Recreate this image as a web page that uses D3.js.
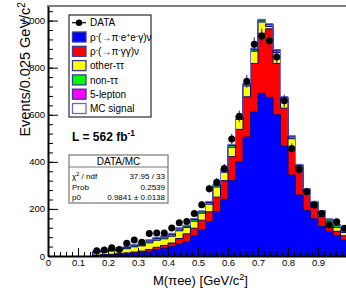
<!DOCTYPE html>
<html>
<head>
<meta charset="utf-8">
<script src="https://cdn.jsdelivr.net/npm/d3@7"></script>
<style>
  body { margin: 0; background: #fff; }
  svg { font-family: "Liberation Sans", Arial, Helvetica, sans-serif; }
</style>
</head>
<body>
<svg id="chart" width="346" height="290"></svg>
<script>
// bins of 0.025 GeV/c^2, first filled bin starts at 0.150
var firstBin = 6;
var binWidth = 0.025;

// stacked MC components, bins 0.150 .. 1.000
var sigEEG   = [2,3,4,6,8,11,14,20,28,33,40,50,61,86,112,146,188,241,320,400,505,612,691,674,600,467,344,259,193,158,125,105,87,68];
var sigGG    = [2,3,3,4,5,6,7,8,9,12,15,24,33,32,40,42,62,79,102,138,171,206,255,291,218,161,110,99,76,50,42,17,18,18];
var otherTT  = [12,12,14,16,18,22,22,28,30,28,29,33,27,30,30,32,43,36,40,42,46,52,48,10,46,36,44,20,8,15,16,23,16,14];
var nonTT    = [4,4,5,5,6,7,7,8,8,8,8,8,6,7,6,7,8,8,8,8,8,8,8,8,8,8,8,7,5,6,6,8,8,7];
var fiveLep  = [2,3,2,3,3,3,4,4,4,4,4,4,3,4,3,4,4,4,4,4,4,4,3,3,4,4,4,4,3,3,3,4,4,3];

// data points, same bins
var dataCounts = [22,25,35,28,54,68,58,96,98,98,119,141,147,181,218,286,313,372,497,594,742,899,935,914,845,659,457,369,273,217,181,132,146,118];

var xTicks = [0, 0.1, 0.2, 0.3, 0.4, 0.5, 0.6, 0.7, 0.8, 0.9];
var yTicks = [0, 200, 400, 600, 800, 1000];

var legendLabels = ["DATA", "\u03c1^{-}(\u2192\u03c0^{-}e^{+}e^{-}\u03b3)\u03bd", "\u03c1^{-}(\u2192\u03c0^{-}\u03b3\u03b3)\u03bd",
                    "other-\u03c4\u03c4", "non-\u03c4\u03c4", "5-lepton", "MC signal"];
var legendColors = [null, "#0000ff", "#ff0000", "#ffff00", "#00ff00", "#ff00ff", "#ffffff"];

var statNames  = ["\u03c7^{2} / ndf", "Prob", "p0"];
var statValues = ["37.95 / 33", "0.2539", "0.9841 \u00b1 0.0138"];

var svg = d3.select("#chart");
var x = d3.scaleLinear().domain([0, 1.0]).range([48, 348]);
var y = d3.scaleLinear().domain([0, 1062]).range([256, 6]);

// write text with ^{..} superscripts
function rich(sel, str) {
  var parts = str.split(/(\^\{[^}]*\})/);
  parts.forEach(function(p) {
    if (!p) return;
    if (p.indexOf("^{") === 0) {
      sel.append("tspan").attr("baseline-shift", "super").attr("font-size", "70%").text(p.slice(2, -1));
    } else {
      sel.append("tspan").text(p);
    }
  });
  return sel;
}

var binLow = sigEEG.map(function(d, i) { return (firstBin + i) * binWidth; });

// cumulative stack
var layers = [sigEEG, sigGG, otherTT, nonTT, fiveLep];
var cum = [];
var run = sigEEG.map(function() { return 0; });
layers.forEach(function(l) {
  run = run.map(function(v, i) { return v + l[i]; });
  cum.push(run.slice());
});
var fills = ["#0000ff", "#ff0000", "#ffff00", "#00ff00", "#ff00ff"];

function stepPoints(vals) {
  var pts = [[x(binLow[0]), y(0)]];
  vals.forEach(function(v, i) {
    pts.push([x(binLow[i]), y(v)]);
    pts.push([x(binLow[i] + binWidth), y(v)]);
  });
  pts.push([x(binLow[binLow.length - 1] + binWidth), y(0)]);
  return pts;
}
var line = d3.line();

var plot = svg.append("g");
for (var k = cum.length - 1; k >= 0; k--) {
  plot.append("path")
    .attr("d", line(stepPoints(cum[k])) + "Z")
    .attr("fill", fills[k])
    .attr("stroke", "#000080")
    .attr("stroke-width", 1);
}
// MC signal outline on top
plot.append("path")
  .attr("d", line(stepPoints(cum[cum.length - 1]).slice(1, -1)))
  .attr("fill", "none")
  .attr("stroke", "#7070d8")
  .attr("stroke-width", 1);

// data points with poisson errors
var pts = svg.append("g");
dataCounts.forEach(function(n, i) {
  var cx = x(binLow[i] + binWidth / 2);
  var err = Math.sqrt(n);
  pts.append("line")
    .attr("x1", cx).attr("x2", cx)
    .attr("y1", y(n - err)).attr("y2", y(n + err))
    .attr("stroke", "#2020a0").attr("stroke-width", 1);
  pts.append("circle")
    .attr("cx", cx).attr("cy", y(n)).attr("r", 3.5)
    .attr("fill", "#000");
});

// axes
var xMinor = d3.range(0, 1.0001, 0.02);
var yMinor = d3.range(0, 1062, 40);

svg.append("g").attr("transform", "translate(0,256)")
  .call(d3.axisBottom(x).tickValues(xMinor).tickSizeInner(-4).tickSizeOuter(0).tickFormat(""))
  .call(function(g) { g.select(".domain").remove(); });
var xa = svg.append("g").attr("transform", "translate(0,256)")
  .call(d3.axisBottom(x).tickValues(xTicks).tickSizeInner(-8).tickSizeOuter(0)
        .tickPadding(3).tickFormat(function(d) { return d === 0 ? "0" : d3.format(".1f")(d); }));
xa.select(".domain").attr("stroke-width", 2);
xa.selectAll("text").attr("font-size", 9.5).attr("font-family", "Liberation Sans, Arial, sans-serif");

svg.append("g").attr("transform", "translate(48,0)")
  .call(d3.axisLeft(y).tickValues(yMinor).tickSizeInner(-5).tickSizeOuter(0).tickFormat(""))
  .call(function(g) { g.select(".domain").remove(); });
var ya = svg.append("g").attr("transform", "translate(48,0)")
  .call(d3.axisLeft(y).tickValues(yTicks).tickSizeInner(-10).tickSizeOuter(0).tickPadding(3));
ya.select(".domain").attr("stroke-width", 2);
ya.selectAll("text").attr("font-size", 9.5).attr("font-family", "Liberation Sans, Arial, sans-serif");

// top frame
svg.append("line").attr("x1", 47).attr("x2", 346).attr("y1", 6).attr("y2", 6)
  .attr("stroke", "#555").attr("stroke-width", 1.5);

// axis titles
rich(svg.append("text")
  .attr("transform", "translate(30,2) rotate(-90)")
  .attr("text-anchor", "end").attr("font-size", 14.5), "Events/0.025 GeV/c^{2}");
rich(svg.append("text")
  .attr("x", 153).attr("y", 285).attr("font-size", 13), "M(\u03c0ee) [GeV/c^{2}]");

// legend
var leg = svg.append("g");
leg.append("rect").attr("x", 69).attr("y", 15).attr("width", 82).attr("height", 102)
  .attr("fill", "#fff").attr("stroke", "#000").attr("stroke-width", 1);
legendLabels.forEach(function(lab, i) {
  var cy = 22.7 + 14.3 * i;
  if (i === 0) {
    leg.append("line").attr("x1", 72).attr("x2", 86).attr("y1", cy).attr("y2", cy)
      .attr("stroke", "#000").attr("stroke-width", 1.2);
    leg.append("circle").attr("cx", 79).attr("cy", cy).attr("r", 3.2).attr("fill", "#000");
  } else {
    leg.append("rect").attr("x", 72.5).attr("y", cy - 5).attr("width", 13.5).attr("height", 10)
      .attr("fill", legendColors[i])
      .attr("stroke", i === 6 ? "#6a6acd" : "#3a3a9a").attr("stroke-width", 1.3);
  }
  rich(leg.append("text").attr("x", 90).attr("y", cy + 3.6).attr("font-size", 10), lab);
});

// luminosity
rich(svg.append("text").attr("x", 72).attr("y", 141).attr("font-size", 12)
  .attr("font-weight", "bold"), "L = 562 fb^{-1}");

// stats box
var st = svg.append("g");
st.append("rect").attr("x", 69).attr("y", 155).attr("width", 99).attr("height", 48)
  .attr("fill", "#fff").attr("stroke", "#777").attr("stroke-width", 1.2);
st.append("line").attr("x1", 69).attr("x2", 168).attr("y1", 167).attr("y2", 167)
  .attr("stroke", "#777").attr("stroke-width", 1);
st.append("text").attr("x", 118.5).attr("y", 164.5).attr("text-anchor", "middle")
  .attr("font-size", 10).text("DATA/MC");
statNames.forEach(function(nm, i) {
  var by = 179 + 10.5 * i;
  rich(st.append("text").attr("x", 72).attr("y", by).attr("font-size", 8), nm);
  st.append("text").attr("x", 165).attr("y", by).attr("text-anchor", "end")
    .attr("font-size", 8).text(statValues[i]);
});
</script>
</body>
</html>
